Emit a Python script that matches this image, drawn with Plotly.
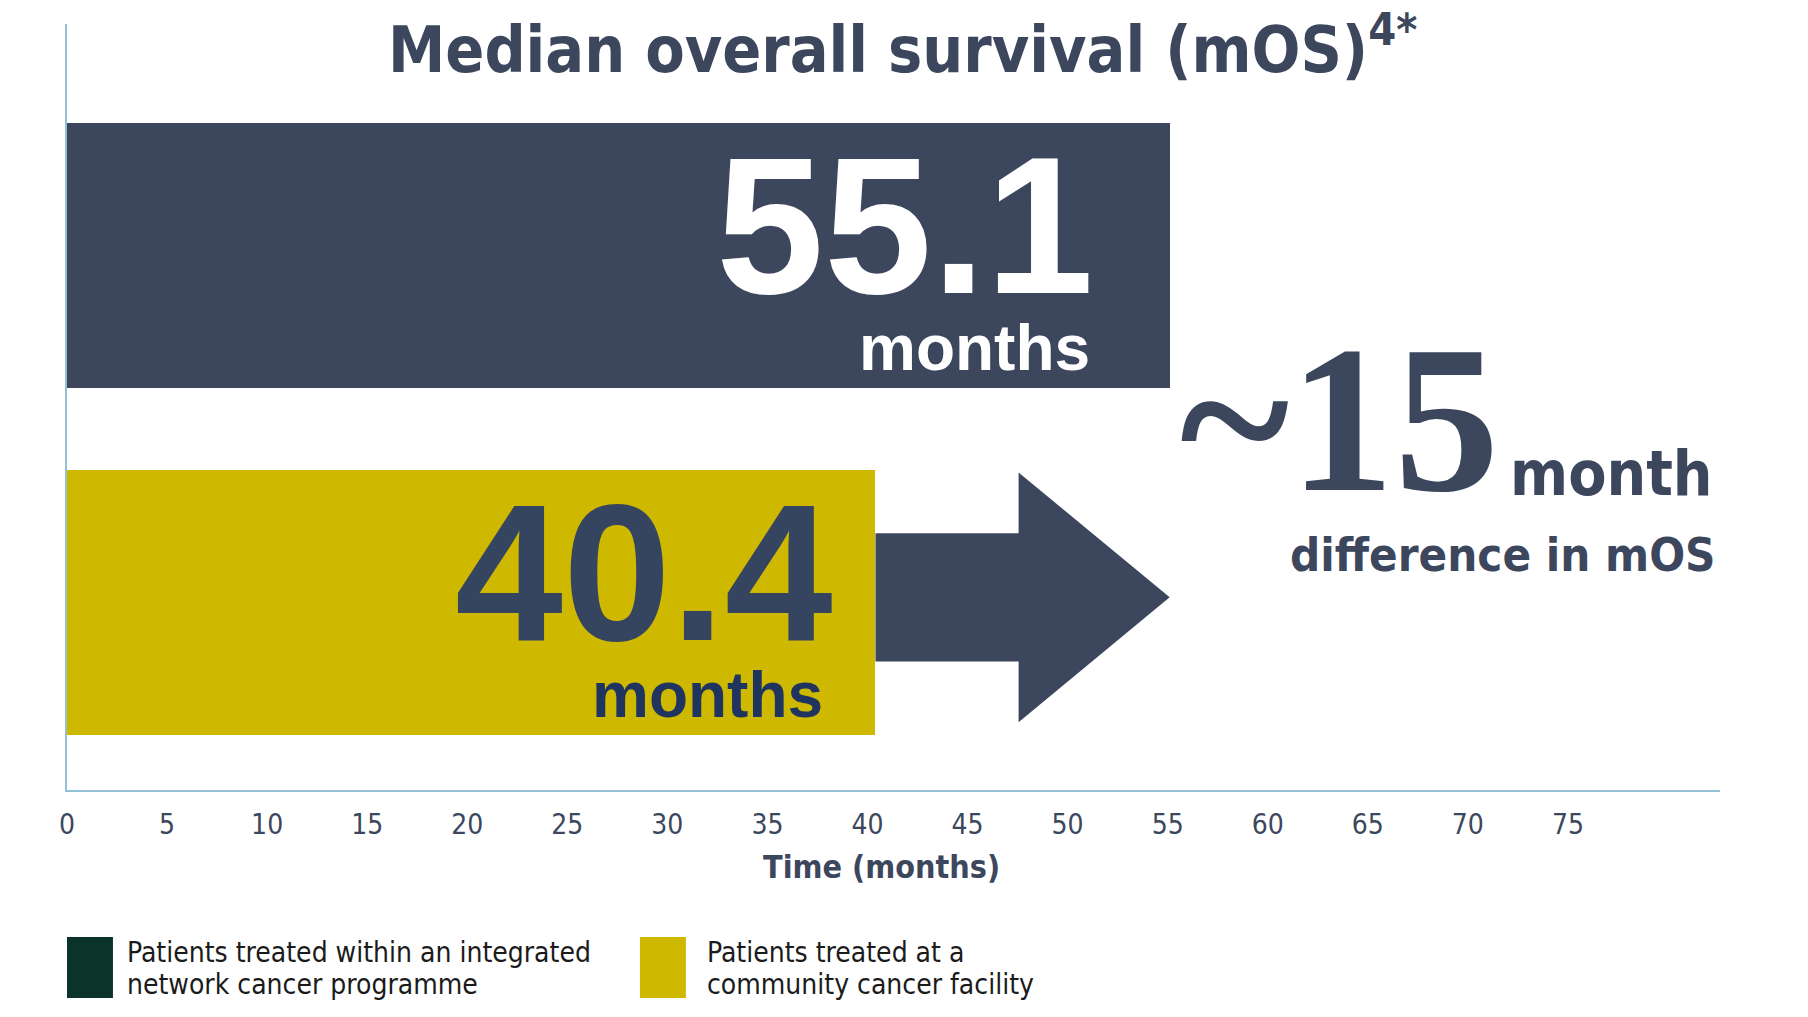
import plotly.graph_objects as go

# ---- data ----
categories = ["Community cancer facility", "Integrated network cancer programme"]  # bottom -> top
mos_values = [40.4, 55.1]
bar_colors = ["#cfb800", "#3c475e"]
number_colors = ["#354560", "#ffffff"]
unit_colors = ["#1f3560", "#ffffff"]
tick_values = list(range(0, 80, 5))
tick_labels = [str(v) for v in tick_values]
legend_labels = [
    ["Patients treated within an integrated", "network cancer programme"],
    ["Patients treated at a", "community cancer facility"],
]
legend_colors = ["#0b3329", "#cfb800"]
difference_label = "~15"
x_title = "Time (months)"

# ---- styles ----
NAVY = "#3c475e"
AXIS = "#93c0d6"
NARROW = "DejaVu Sans Condensed, Roboto, sans-serif"
WIDE = "Liberation Sans, Arial, sans-serif"
SERIF = "Liberation Serif, DejaVu Serif, serif"
number_xshift = [-40, -74]
unit_xshift = [-50, -78]

fig = go.Figure()
fig.add_trace(go.Bar(
    x=mos_values, y=categories, orientation="h",
    marker=dict(color=bar_colors, line=dict(width=0)),
    width=0.764, hoverinfo="skip", showlegend=False,
))

# arrow from shorter to longer bar
x_start, x_end = min(mos_values), max(mos_values)
x_mid = (x_start + x_end) / 2 - 0.2
y0 = 0.015
shaft, head = 0.185, 0.36
path = (f"M {x_start},{y0 - shaft} L {x_mid},{y0 - shaft} L {x_mid},{y0 - head} "
        f"L {x_end},{y0} L {x_mid},{y0 + head} L {x_mid},{y0 + shaft} L {x_start},{y0 + shaft} Z")
fig.add_shape(type="path", path=path, xref="x", yref="y",
              fillcolor=NAVY, line=dict(width=0), layer="above")

annotations = []
for i, (cat, val, nc, uc) in enumerate(zip(categories, mos_values, number_colors, unit_colors)):
    annotations.append(dict(
        x=val, y=cat, xref="x", yref="y", text=f"{val}", showarrow=False,
        xanchor="right", yanchor="middle", xshift=number_xshift[i], yshift=30,
        font=dict(family=WIDE, size=194, color=nc, weight="bold")))
    annotations.append(dict(
        x=val, y=cat, xref="x", yref="y", text="months", showarrow=False,
        xanchor="right", yanchor="middle", xshift=unit_xshift[i], yshift=-92,
        font=dict(family=WIDE, size=64, color=uc, weight="bold")))

# title
annotations.append(dict(
    x=0.5057, y=0.972, xref="paper", yref="paper", showarrow=False,
    text="Median overall survival (mOS)<sup>4*</sup>", xanchor="center", yanchor="middle",
    font=dict(family=NARROW, size=64, color=NAVY, weight="bold")))

# x-axis title
annotations.append(dict(
    x=0.4927, y=-0.1000, xref="paper", yref="paper", showarrow=False,
    text=x_title, xanchor="center", yanchor="middle",
    font=dict(family=NARROW, size=32, color=NAVY, weight="bold")))

# difference callout
annotations.append(dict(
    x=0.8675, y=0.4845, xref="paper", yref="paper", showarrow=False,
    text=difference_label, xanchor="right", yanchor="middle",
    font=dict(family=SERIF, size=210, color=NAVY, weight="bold")))
annotations.append(dict(
    x=0.997, y=0.4135, xref="paper", yref="paper", showarrow=False,
    text="month", xanchor="right", yanchor="middle",
    font=dict(family=NARROW, size=62, color=NAVY, weight="bold")))
annotations.append(dict(
    x=0.999, y=0.3073, xref="paper", yref="paper", showarrow=False,
    text="difference in mOS", xanchor="right", yanchor="middle",
    font=dict(family=NARROW, size=47, color=NAVY, weight="bold")))

# legend
leg_x = [0.0, 0.3466]
for i, (lines, col) in enumerate(zip(legend_labels, legend_colors)):
    fig.add_shape(type="rect", xref="paper", yref="paper",
                  x0=leg_x[i], x1=leg_x[i] + 0.0278, y0=-0.2715, y1=-0.1919,
                  fillcolor=col, line=dict(width=0))
    for j, line in enumerate(lines):
        annotations.append(dict(
            x=leg_x[i] + 0.0351 + (0.004 if i == 1 else 0), y=[-0.2120, -0.2545][j],
            xref="paper", yref="paper",
            text=line, showarrow=False, xanchor="left", yanchor="middle",
            font=dict(family=NARROW, size=28, color="#1b1b1b")))

fig.update_layout(
    width=1808, height=1017,
    margin=dict(l=67, r=88, t=24, b=227, pad=0),
    paper_bgcolor="white", plot_bgcolor="white",
    annotations=annotations,
    bargap=0,
    xaxis=dict(
        range=[0, 82.6], tickvals=tick_values, ticktext=tick_labels,
        showline=True, linecolor=AXIS, linewidth=2, showgrid=False, zeroline=False,
        ticks="outside", ticklen=8, tickcolor="rgba(0,0,0,0)",
        tickfont=dict(family=NARROW, size=28, color=NAVY),
        fixedrange=True,
    ),
    yaxis=dict(
        type="category", categoryorder="array", categoryarray=categories,
        range=[-0.54, 1.667], showline=True, linecolor=AXIS, linewidth=2,
        showgrid=False, zeroline=False, showticklabels=False, ticks="",
        fixedrange=True,
    ),
)

fig.write_html("out.html", post_script="document.body.style.margin='0';",
               config={"displayModeBar": False})
